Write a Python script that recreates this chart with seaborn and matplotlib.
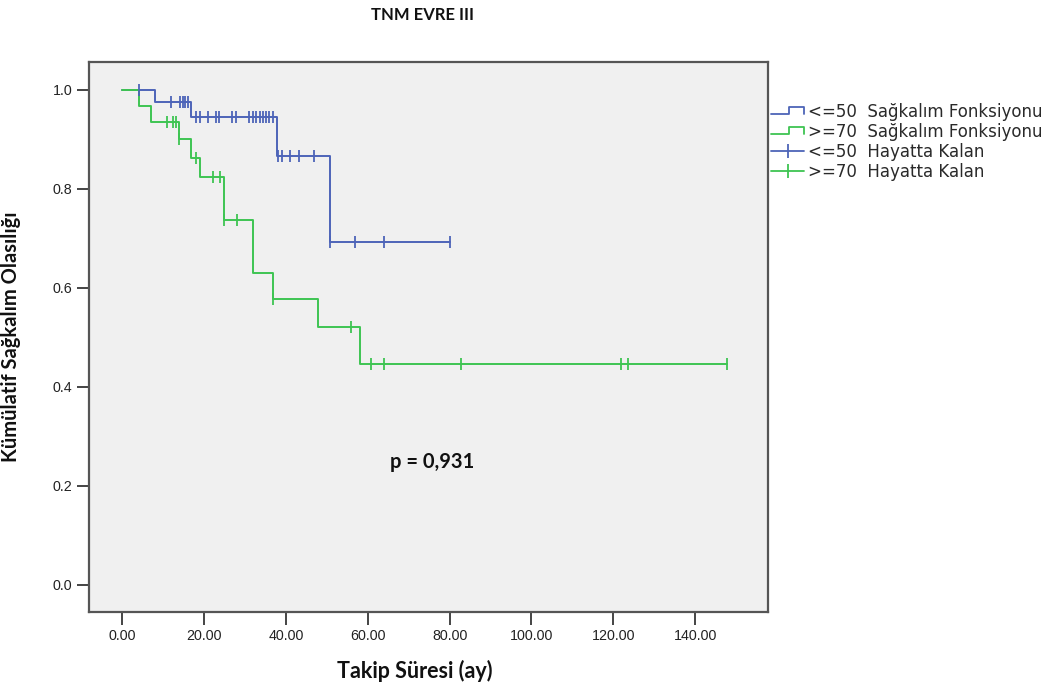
import numpy as np
import matplotlib
matplotlib.use("Agg")
import matplotlib.pyplot as plt
import seaborn as sns
from matplotlib.lines import Line2D
from matplotlib.legend_handler import HandlerBase

# ---- data ----
blue_times = [0.0, 8.1, 16.9, 37.8, 50.9, 80.0]
blue_surv = [1.0, 0.975, 0.944, 0.866, 0.693, 0.693]
blue_censor = [4.0, 12.0, 14.2, 14.8, 15.4, 16.1, 18.1, 18.9, 20.9, 23.0, 23.6,
               26.9, 27.7, 31.1, 32.0, 32.8, 33.6, 34.4, 35.2, 36.0, 36.8,
               38.2, 39.0, 41.1, 43.1, 46.9, 50.9, 57.0, 63.9, 80.0]

green_times = [0.0, 4.0, 7.0, 13.9, 16.9, 18.9, 25.0, 32.0, 36.8, 47.8, 58.0, 147.7]
green_surv = [1.0, 0.967, 0.935, 0.900, 0.861, 0.823, 0.737, 0.630, 0.578, 0.520, 0.446, 0.446]
green_censor = [10.9, 12.5, 13.1, 13.9, 18.0, 22.1, 24.0, 25.0, 28.0, 36.8, 55.9,
                60.9, 63.9, 82.9, 121.8, 123.6, 147.7]

x_ticks = [0, 20, 40, 60, 80, 100, 120, 140]
y_ticks = [0.0, 0.2, 0.4, 0.6, 0.8, 1.0]
legend_labels = ["<=50  Sağkalım Fonksiyonu", ">=70  Sağkalım Fonksiyonu",
                 "<=50  Hayatta Kalan", ">=70  Hayatta Kalan"]
title = "TNM EVRE III"
xlabel = "Takip Süresi (ay)"
ylabel = "Kümülatif Sağkalım Olasılığı"
p_text = "p = 0,931"

BLUE = "#4d64b8"
GREEN = "#3ec452"

sns.set_style("ticks")
plt.rcParams["font.family"] = ["Liberation Sans", "DejaVu Sans"]

fig = plt.figure(figsize=(10.57, 6.86), dpi=100)
ax = fig.add_axes([89 / 1057, 1 - 612 / 686, (768 - 89) / 1057, (612 - 62) / 686])
ax.set_facecolor("#f0f0f0")


def step_lookup(times, surv, t):
    idx = np.searchsorted(times, t, side="right") - 1
    return [surv[i] for i in idx]


for times, surv, cens, col in [(blue_times, blue_surv, blue_censor, BLUE),
                               (green_times, green_surv, green_censor, GREEN)]:
    sns.lineplot(x=times, y=surv, drawstyle="steps-post", estimator=None,
                 color=col, lw=1.4, ax=ax, sort=True)
    cy = step_lookup(np.array(times), surv, np.array(cens))
    sns.scatterplot(x=cens, y=cy, marker="|", s=70, color=col,
                    linewidth=1.3, ax=ax, zorder=3)

ax.set_xlim(-8.1, 157.8)
ax.set_ylim(-0.0545, 1.0555)
ax.set_xticks(x_ticks)
ax.set_xticklabels([f"{v:.2f}" for v in x_ticks])
ax.set_yticks(y_ticks)
ax.set_yticklabels([f"{v:.1f}" for v in y_ticks])
ax.tick_params(axis="both", labelsize=10.3, color="#444444", width=1.4,
               length=9, labelcolor="#222222", pad=3)
for s in ax.spines.values():
    s.set_visible(True)
    s.set_color("#555555")
    s.set_linewidth(1.6)

lab_font = dict(family=["Lato", "DejaVu Sans"], fontweight="bold", color="#111111")
ax.set_xlabel(xlabel, fontsize=15.5, **lab_font)
ax.set_ylabel(ylabel, fontsize=14.5, **lab_font)
ax.xaxis.set_label_coords(0.48, -0.088)
ax.yaxis.set_label_coords(-0.1, 0.5)

fig.text(0.400, 0.978, title, ha="center", va="center", fontsize=12, **lab_font)
ax.text(75.7, 0.248, p_text, ha="center", va="center", fontsize=14.5, **lab_font)


class StepHandler(HandlerBase):
    def create_artists(self, legend, orig_handle, xdescent, ydescent,
                       width, height, fontsize, trans):
        x0 = -xdescent
        lo = -ydescent + height * 0.25
        hi = -ydescent + height * 0.9
        xs = [x0, x0 + 0.55 * width, x0 + 0.55 * width, x0 + width, x0 + width]
        ys = [lo, lo, hi, hi, lo]
        ln = Line2D(xs, ys, color=orig_handle.get_color(), lw=1.3, transform=trans)
        return [ln]


h1 = Line2D([], [], color=BLUE)
h2 = Line2D([], [], color=GREEN)
h3 = Line2D([0], [0], color=BLUE, lw=1.3, marker="|", markersize=10, mew=1.3)
h4 = Line2D([0], [0], color=GREEN, lw=1.3, marker="|", markersize=10, mew=1.3)

leg = fig.legend([h1, h2, h3, h4], legend_labels,
                 handler_map={h1: StepHandler(), h2: StepHandler()},
                 loc="upper left", bbox_to_anchor=(771 / 1057, 1 - 103 / 686),
                 frameon=False, prop=dict(family=["DejaVu Sans"], size=12),
                 handlelength=2.0, handletextpad=0.2, labelspacing=0.12,
                 borderaxespad=0, borderpad=0)
for t in leg.get_texts():
    t.set_color("#2a2a2a")

fig.savefig("out.png", dpi=100, facecolor="white")
